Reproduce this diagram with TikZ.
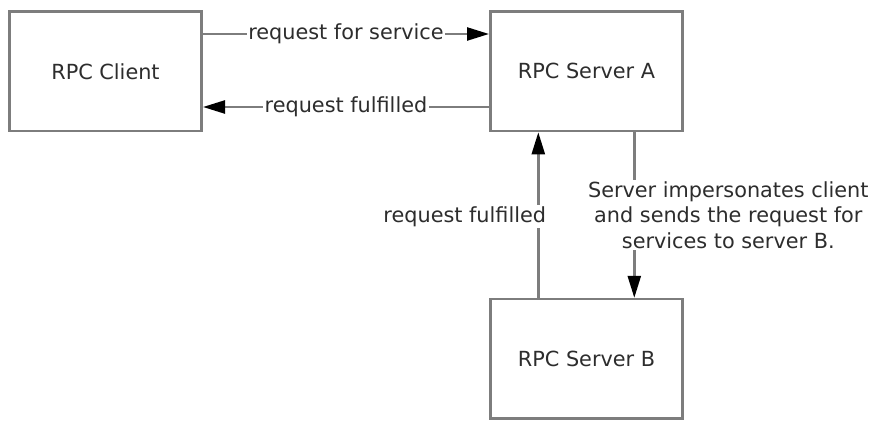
\documentclass[tikz,border=0pt]{standalone}
\usepackage{fontspec}
\setmainfont{DejaVu Sans}
\usetikzlibrary{arrows.meta}
\definecolor{boxgray}{RGB}{125,125,125}
\definecolor{txt}{RGB}{45,45,45}
\begin{document}
\begin{tikzpicture}[x=1pt,y=-1pt,
  font=\fontsize{20.8}{25.3}\selectfont,
  box/.style={draw=boxgray,line width=2.6pt,fill=white,minimum width=192.4pt,minimum height=119.3pt,inner sep=0pt,text=txt},
  conn/.style={draw=boxgray,line width=2.4pt,-{Triangle[length=22pt,width=13pt,color=black,fill=black]}},
  lbl/.style={fill=white,text=txt,inner sep=1.5pt}]
\useasboundingbox (0,0) rectangle (876,422);
\node[box] (cli) at (105.5,71.35) {RPC Client};
\node[box] (sa) at (586.5,71.35) {RPC Server A};
\node[box] (sb) at (586.5,358.8) {RPC Server B};
\draw[conn] (cli.east |- 0,34) -- node[lbl]{request for service} (sa.west |- 0,34);
\draw[conn] (sa.west |- 0,107) -- node[lbl]{request fulfilled} (cli.east |- 0,107);
\draw[conn] (sb.north -| 538.3,0) -- node[lbl,pos=0.489,anchor=east,xshift=10.5pt]{request fulfilled} (sa.south -| 538.3,0);
\draw[conn] (sa.south -| 634.3,0) -- node[lbl,pos=0.5,xshift=94pt,align=center,inner sep=2pt]{Server impersonates client\\and sends the request for\\services to server B.} (sb.north -| 634.3,0);
\end{tikzpicture}
\end{document}
